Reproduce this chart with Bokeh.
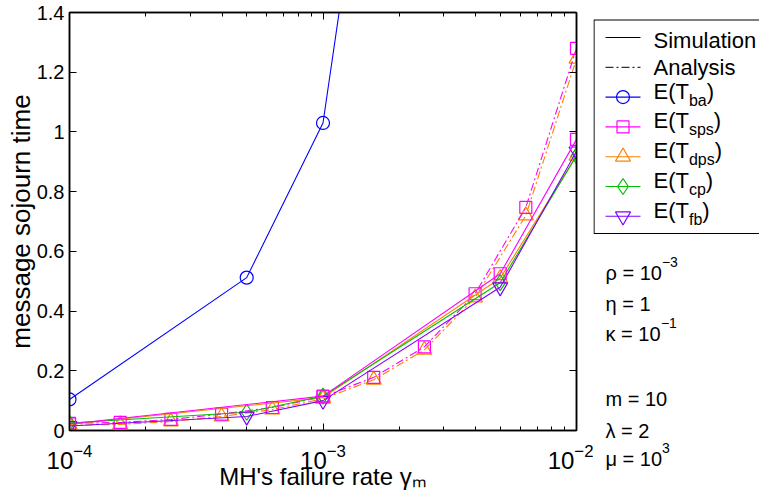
from bokeh.plotting import figure
from bokeh.models import (Range1d, LogAxis, LinearAxis, FixedTicker, LogTickFormatter,
                          CustomJSTickFormatter)
from bokeh.layouts import row
from bokeh.embed import file_html
from bokeh.resources import INLINE
from bokeh.core.properties import value

# ---------------- data ----------------
x_sim_ba = [1e-4, 5e-4, 1e-3, 5e-3]
x_sim_ps = [1e-4, 1e-3, 5e-3, 1e-2]
x_sim = [1e-4, 5e-4, 1e-3, 5e-3, 1e-2]
x_ana = [1e-4, 1.585e-4, 2.512e-4, 3.981e-4, 6.310e-4, 1e-3,
         1.585e-3, 2.512e-3, 3.981e-3, 6.310e-3, 1e-2]

ba_sim = [0.104, 0.512, 1.03, 5.1]
sps_sim = [0.022, 0.115, 0.525, 0.975]
dps_sim = [0.020, 0.110, 0.510, 0.920]
cp_sim = [0.025, 0.061, 0.115, 0.495, 0.920]
fb_sim = [0.015, 0.047, 0.100, 0.480, 0.935]

sps_ana = [0.024, 0.027, 0.037, 0.055, 0.077, 0.113, 0.178, 0.280, 0.458, 0.747, 1.280]
dps_ana = [0.018, 0.020, 0.030, 0.047, 0.070, 0.106, 0.170, 0.270, 0.445, 0.720, 1.245]

x_ticks = [1e-4, 1e-3, 1e-2]
x_minor = [2e-4, 3e-4, 4e-4, 5e-4, 6e-4, 7e-4, 8e-4, 9e-4,
           2e-3, 3e-3, 4e-3, 5e-3, 6e-3, 7e-3, 8e-3, 9e-3]
y_ticks = [0, 0.2, 0.4, 0.6, 0.8, 1.0, 1.2, 1.4]
y_tick_labels = ["0", "0.2", "0.4", "0.6", "0.8", "1", "1.2", "1.4"]

legend_names = ["ba", "sps", "dps", "cp", "fb"]
params_main = ["\u03c1 = 10", "\u03b7 = 1", "\u03ba = 10", "m = 10", "\u03bb = 2", "\u03bc = 10"]
params_sup = ["\u22123", "", "\u22121", "", "", "3"]

FONT = "Liberation Sans"
BLUE, MAG, ORA, GRN, PUR = "#0000FF", "#FF00FF", "#FF8000", "#00C000", "#8000FF"
DASHDOT = "8 3 2 3"

# ---------------- main plot ----------------
p = figure(width=593, height=504, x_axis_type="log",
           x_range=Range1d(1e-4, 1e-2), y_range=Range1d(0, 1.4),
           output_backend="svg", toolbar_location=None,
           min_border_left=69, min_border_right=17, min_border_top=12, min_border_bottom=74)
p.frame_align = False
p.grid.visible = False
p.outline_line_color = "black"
p.outline_line_width = 1.5
p.background_fill_color = "white"
p.border_fill_color = "white"

def style_axis(ax, fs="20px"):
    ax.axis_line_color = "black"
    ax.axis_line_width = 1.5
    ax.major_tick_in = 7
    ax.major_tick_out = 0
    ax.minor_tick_in = 4
    ax.minor_tick_out = 0
    ax.major_tick_line_color = "black"
    ax.minor_tick_line_color = "black"
    ax.major_label_text_font = FONT
    ax.major_label_text_font_size = fs
    ax.major_label_text_color = "black"

xa = p.xaxis[0]
style_axis(xa, "24px")
xa.ticker = FixedTicker(ticks=x_ticks, minor_ticks=x_minor)
xa.formatter = LogTickFormatter()
xa.major_label_standoff = 13
xa.axis_label = "MH's failure rate \u03b3\u2098"
xa.axis_label_text_font = FONT
xa.axis_label_text_font_size = "24px"
xa.axis_label_text_font_style = "normal"
xa.axis_label_text_color = "black"
xa.axis_label_standoff = -9

ya = p.yaxis[0]
style_axis(ya, "20px")
ya.ticker = FixedTicker(ticks=y_ticks, minor_ticks=[])
ya.major_label_overrides = {t: l for t, l in zip(y_ticks, y_tick_labels)}
ya.major_label_standoff = 5
ya.axis_label = "message sojourn time"
ya.axis_label_text_font = FONT
ya.axis_label_text_font_size = "26px"
ya.axis_label_text_font_style = "normal"
ya.axis_label_text_color = "black"
ya.axis_label_standoff = -2

top = LogAxis(ticker=FixedTicker(ticks=x_ticks, minor_ticks=x_minor),
              formatter=CustomJSTickFormatter(code="return ''"))
style_axis(top, "1px")
top.major_label_standoff = 0
p.add_layout(top, "above")
right = LinearAxis(ticker=FixedTicker(ticks=y_ticks, minor_ticks=[]),
                   formatter=CustomJSTickFormatter(code="return ''"))
style_axis(right, "1px")
right.major_label_standoff = 0
p.add_layout(right, "right")

def draw(xs, ys, color, marker, size, dash="solid"):
    p.line(xs, ys, line_color=color, line_width=1.1, line_dash=dash)
    p.scatter(xs, ys, marker=marker, size=size, fill_color=None,
              line_color=color, line_width=1.2)

draw(x_sim_ba, ba_sim, BLUE, "circle", 13)
draw(x_ana, dps_ana, ORA, "triangle", 15, DASHDOT)
draw(x_ana, sps_ana, MAG, "square", 12, DASHDOT)
draw(x_sim_ps, dps_sim, ORA, "triangle", 15)
draw(x_sim, cp_sim, GRN, "diamond", 16)
draw(x_sim, fb_sim, PUR, "inverted_triangle", 15)
draw(x_sim_ps, sps_sim, MAG, "square", 12)

# text width helper (Helvetica/Arial em widths)
W = {'E': .667, '(': .333, ')': .333, 'T': .611, 'b': .556, 'a': .556, 's': .5, 'p': .556,
     'd': .556, 'c': .5, 'f': .278, ' ': .278, '1': .556, '0': .556, '2': .556, '3': .556,
     '=': .584, '\u2212': .584, '\u03c1': .57, '\u03b7': .556, '\u03ba': .52, '\u03bb': .5,
     '\u03bc': .576, 'm': .833}

def tw(s, size):
    return sum(W.get(ch, 0.556) for ch in s) * size

# ---------------- right panel: legend + parameters ----------------
q = figure(width=166, height=504, x_range=Range1d(593, 759), y_range=Range1d(504, 0),
           output_backend="svg", toolbar_location=None, min_border=0,
           x_axis_location=None, y_axis_location=None)
q.frame_align = False
q.grid.visible = False
q.outline_line_color = None
q.background_fill_color = "white"
q.border_fill_color = "white"

q.quad(left=[593.5], right=[780], top=[19.5], bottom=[233], fill_color=None,
       line_color="black", line_width=1.2)

row_y = [37 + 29.8 * i for i in range(7)]
gx0, gx1, gxm, tx = 605, 640, 622.5, 653
LF, SF = "22px", "16px"
q.line([gx0, gx1], [row_y[0]] * 2, line_color="black", line_width=1)
q.text([tx], [row_y[0] + 3], text=["Simulation"], text_font=value(FONT),
       text_font_size=LF, text_baseline="alphabetic")
q.line([gx0, gx1], [row_y[1]] * 2, line_color="black", line_width=1, line_dash=DASHDOT)
q.text([tx], [row_y[1] + 0], text=["Analysis"], text_font=value(FONT),
       text_font_size=LF, text_baseline="alphabetic")

leg_style = [(BLUE, "circle", 13), (MAG, "square", 12), (ORA, "triangle", 15),
             (GRN, "diamond", 16), (PUR, "inverted_triangle", 15)]
for i, (name, (col, mk, sz)) in enumerate(zip(legend_names, leg_style)):
    yy = row_y[i + 2]
    q.line([gx0, gx1], [yy, yy], line_color=col, line_width=1.1)
    q.scatter([gxm], [yy], marker=mk, size=sz, fill_color=None, line_color=col, line_width=1.2)
    wm = tw("E(T", 22)
    ws = tw(name, 16)
    q.text([tx], [yy - 6], text=["E(T"], text_font=value(FONT), text_font_size=LF,
           text_baseline="alphabetic")
    q.text([tx + wm], [yy + 3], text=[name], text_font=value(FONT), text_font_size=SF,
           text_baseline="alphabetic")
    q.text([tx + wm + ws], [yy - 6], text=[")"], text_font=value(FONT), text_font_size=LF,
           text_baseline="alphabetic")

param_base = [272, 303, 333, 398, 430, 458]
px0 = 605
for m_txt, s_txt, yb in zip(params_main, params_sup, param_base):
    q.text([px0], [yb], text=[m_txt], text_font=value(FONT), text_font_size="20px",
           text_baseline="alphabetic")
    if s_txt:
        q.text([px0 + tw(m_txt, 20)], [yb - 11], text=[s_txt], text_font=value(FONT),
               text_font_size="14px", text_baseline="alphabetic")

layout = row(p, q)
open("out.html", "w").write(file_html(layout, INLINE))
